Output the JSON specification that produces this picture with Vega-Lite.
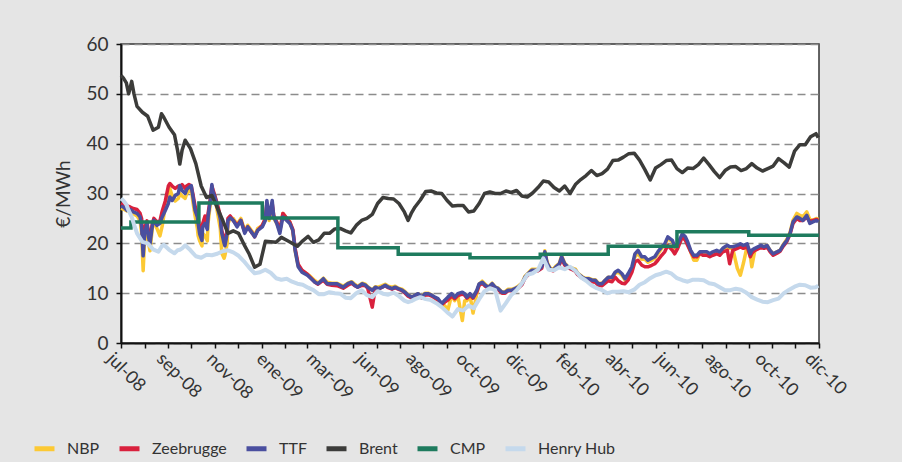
{
"$schema":"https://vega.github.io/schema/vega-lite/v6.json",
"autosize":{"type":"none"},
"width":698,"height":299,
"padding":{"left":121,"top":44,"right":83,"bottom":119},
"background":"#e5e5e5",
"config":{"font":"Lato, Liberation Sans, sans-serif","view":{"fill":"white","stroke":"#333","strokeWidth":1.5}},
"datasets":{
"gas":[
{"d":"2008-07-01","TTF":27.5,"NBP":27,"Zeebrugge":28},
{"d":"2008-07-05","TTF":27.2,"NBP":26.8,"Zeebrugge":27.8},
{"d":"2008-07-09","TTF":26.6,"NBP":26.5,"Zeebrugge":27.5},
{"d":"2008-07-13","TTF":26.8,"NBP":26.8,"Zeebrugge":27.3},
{"d":"2008-07-17","TTF":26.3,"NBP":26,"Zeebrugge":27},
{"d":"2008-07-22","TTF":26,"NBP":25.5,"Zeebrugge":26.8},
{"d":"2008-07-26","TTF":25.3,"NBP":24.5,"Zeebrugge":26},
{"d":"2008-07-28","TTF":23.3,"NBP":22,"Zeebrugge":25},
{"d":"2008-07-30","TTF":17.5,"NBP":14.5,"Zeebrugge":19},
{"d":"2008-08-01","TTF":22,"NBP":21,"Zeebrugge":23},
{"d":"2008-08-04","TTF":24,"NBP":23.5,"Zeebrugge":24.5},
{"d":"2008-08-06","TTF":21.3,"NBP":20,"Zeebrugge":22},
{"d":"2008-08-08","TTF":19.9,"NBP":18.5,"Zeebrugge":21},
{"d":"2008-08-11","TTF":23.5,"NBP":23,"Zeebrugge":24},
{"d":"2008-08-13","TTF":24.6,"NBP":24.5,"Zeebrugge":25},
{"d":"2008-08-17","TTF":23.6,"NBP":23,"Zeebrugge":24.3},
{"d":"2008-08-21","TTF":24,"NBP":21.5,"Zeebrugge":24.5},
{"d":"2008-08-24","TTF":25.3,"NBP":23.5,"Zeebrugge":26.5},
{"d":"2008-08-28","TTF":26.6,"NBP":27.5,"Zeebrugge":28.5},
{"d":"2008-09-01","TTF":28,"NBP":30,"Zeebrugge":31.5},
{"d":"2008-09-03","TTF":29.3,"NBP":31,"Zeebrugge":32},
{"d":"2008-09-06","TTF":28.6,"NBP":29.5,"Zeebrugge":31.5},
{"d":"2008-09-10","TTF":29.6,"NBP":28.5,"Zeebrugge":31},
{"d":"2008-09-14","TTF":30,"NBP":29,"Zeebrugge":31.5},
{"d":"2008-09-16","TTF":31.6,"NBP":30,"Zeebrugge":31.2},
{"d":"2008-09-19","TTF":30.6,"NBP":29.5,"Zeebrugge":31.8},
{"d":"2008-09-23","TTF":30,"NBP":29,"Zeebrugge":31},
{"d":"2008-09-25","TTF":30.8,"NBP":30,"Zeebrugge":31.5},
{"d":"2008-09-28","TTF":31.2,"NBP":30.5,"Zeebrugge":31.8},
{"d":"2008-10-01","TTF":31.6,"NBP":31,"Zeebrugge":31.5},
{"d":"2008-10-03","TTF":29.6,"NBP":28.5,"Zeebrugge":30},
{"d":"2008-10-06","TTF":26.6,"NBP":25.5,"Zeebrugge":27.5},
{"d":"2008-10-09","TTF":25.3,"NBP":23,"Zeebrugge":26},
{"d":"2008-10-10","TTF":24,"NBP":21.5,"Zeebrugge":25},
{"d":"2008-10-12","TTF":21.9,"NBP":20.5,"Zeebrugge":23},
{"d":"2008-10-15","TTF":20.6,"NBP":19.5,"Zeebrugge":22.5},
{"d":"2008-10-16","TTF":23.3,"NBP":22,"Zeebrugge":24},
{"d":"2008-10-19","TTF":24,"NBP":21.5,"Zeebrugge":25.5},
{"d":"2008-10-22","TTF":22.8,"NBP":20.5,"Zeebrugge":24},
{"d":"2008-10-23","TTF":25.3,"NBP":24,"Zeebrugge":26},
{"d":"2008-10-26","TTF":28.6,"NBP":28,"Zeebrugge":29},
{"d":"2008-10-28","TTF":31.8,"NBP":31,"Zeebrugge":31.5},
{"d":"2008-10-29","TTF":30.6,"NBP":30.5,"Zeebrugge":31},
{"d":"2008-11-01","TTF":29.3,"NBP":29.5,"Zeebrugge":29.5},
{"d":"2008-11-04","TTF":27.3,"NBP":26.5,"Zeebrugge":28},
{"d":"2008-11-08","TTF":25,"NBP":23,"Zeebrugge":25.5},
{"d":"2008-11-10","TTF":22,"NBP":18,"Zeebrugge":22.5},
{"d":"2008-11-13","TTF":20,"NBP":17,"Zeebrugge":21},
{"d":"2008-11-14","TTF":19.5,"NBP":17.5,"Zeebrugge":20},
{"d":"2008-11-17","TTF":22,"NBP":20,"Zeebrugge":22.5},
{"d":"2008-11-18","TTF":24.6,"NBP":24,"Zeebrugge":25},
{"d":"2008-11-21","TTF":25.1,"NBP":25,"Zeebrugge":25.5},
{"d":"2008-11-25","TTF":24.6,"NBP":25,"Zeebrugge":24.6},
{"d":"2008-11-30","TTF":23.3,"NBP":23.8,"Zeebrugge":23.6},
{"d":"2008-12-05","TTF":24.6,"NBP":25,"Zeebrugge":24.6},
{"d":"2008-12-10","TTF":22,"NBP":22.5,"Zeebrugge":22.3},
{"d":"2008-12-14","TTF":23.3,"NBP":23.6,"Zeebrugge":23.3},
{"d":"2008-12-20","TTF":22,"NBP":22.3,"Zeebrugge":22},
{"d":"2008-12-23","TTF":21.3,"NBP":21.6,"Zeebrugge":21.3},
{"d":"2008-12-27","TTF":22.6,"NBP":23,"Zeebrugge":22.6},
{"d":"2009-01-02","TTF":23.3,"NBP":23.6,"Zeebrugge":23.6},
{"d":"2009-01-06","TTF":24.6,"NBP":24.8,"Zeebrugge":25},
{"d":"2009-01-08","TTF":28.6,"NBP":27.5,"Zeebrugge":28},
{"d":"2009-01-11","TTF":25,"NBP":24.6,"Zeebrugge":25.5},
{"d":"2009-01-15","TTF":28.6,"NBP":27.5,"Zeebrugge":28},
{"d":"2009-01-17","TTF":25.3,"NBP":25,"Zeebrugge":25.6},
{"d":"2009-01-21","TTF":24,"NBP":24,"Zeebrugge":24.3},
{"d":"2009-01-25","TTF":22,"NBP":22.5,"Zeebrugge":22.6},
{"d":"2009-01-29","TTF":25.3,"NBP":26,"Zeebrugge":26},
{"d":"2009-02-03","TTF":24.6,"NBP":25,"Zeebrugge":25},
{"d":"2009-02-07","TTF":24,"NBP":24.3,"Zeebrugge":24.3},
{"d":"2009-02-11","TTF":22.6,"NBP":22.5,"Zeebrugge":22.8},
{"d":"2009-02-14","TTF":18.6,"NBP":18.5,"Zeebrugge":19},
{"d":"2009-02-18","TTF":15.3,"NBP":15.5,"Zeebrugge":15.8},
{"d":"2009-02-23","TTF":14.2,"NBP":14.5,"Zeebrugge":14.6},
{"d":"2009-03-02","TTF":13.6,"NBP":13.8,"Zeebrugge":13.8},
{"d":"2009-03-05","TTF":13.2,"NBP":13.5,"Zeebrugge":13.3},
{"d":"2009-03-12","TTF":12.2,"NBP":12.5,"Zeebrugge":12.2},
{"d":"2009-03-16","TTF":11.9,"NBP":12,"Zeebrugge":11.8},
{"d":"2009-03-23","TTF":12.9,"NBP":13,"Zeebrugge":12.6},
{"d":"2009-03-28","TTF":11.9,"NBP":12.2,"Zeebrugge":11.8},
{"d":"2009-04-03","TTF":11.9,"NBP":12,"Zeebrugge":11.6},
{"d":"2009-04-10","TTF":11.9,"NBP":12,"Zeebrugge":11.5},
{"d":"2009-04-18","TTF":11.2,"NBP":11.4,"Zeebrugge":11},
{"d":"2009-04-24","TTF":11.9,"NBP":12,"Zeebrugge":11.6},
{"d":"2009-04-29","TTF":12.2,"NBP":12.3,"Zeebrugge":12},
{"d":"2009-05-03","TTF":11.6,"NBP":11.8,"Zeebrugge":11.5},
{"d":"2009-05-07","TTF":11.2,"NBP":11.4,"Zeebrugge":11.2},
{"d":"2009-05-13","TTF":11.9,"NBP":12,"Zeebrugge":11.6},
{"d":"2009-05-17","TTF":11.6,"NBP":11.8,"Zeebrugge":11.5},
{"d":"2009-05-20","TTF":11.2,"NBP":11.3,"Zeebrugge":11},
{"d":"2009-05-26","TTF":10.6,"NBP":10.6,"Zeebrugge":7.2},
{"d":"2009-05-30","TTF":11.2,"NBP":11.3,"Zeebrugge":11},
{"d":"2009-06-03","TTF":10.9,"NBP":11.2,"Zeebrugge":10.8},
{"d":"2009-06-08","TTF":11.2,"NBP":11.5,"Zeebrugge":11.2},
{"d":"2009-06-12","TTF":11.6,"NBP":11.8,"Zeebrugge":11.5},
{"d":"2009-06-16","TTF":11.2,"NBP":11.4,"Zeebrugge":11.1},
{"d":"2009-06-21","TTF":10.9,"NBP":11.2,"Zeebrugge":10.8},
{"d":"2009-06-25","TTF":11.2,"NBP":11.4,"Zeebrugge":11.1},
{"d":"2009-06-29","TTF":10.9,"NBP":11,"Zeebrugge":10.8},
{"d":"2009-07-04","TTF":10.6,"NBP":10.8,"Zeebrugge":10.5},
{"d":"2009-07-08","TTF":10.2,"NBP":10.3,"Zeebrugge":10},
{"d":"2009-07-12","TTF":9.6,"NBP":9.7,"Zeebrugge":9.4},
{"d":"2009-07-17","TTF":9.2,"NBP":9.2,"Zeebrugge":9},
{"d":"2009-07-21","TTF":9.6,"NBP":9.6,"Zeebrugge":9.4},
{"d":"2009-07-25","TTF":9.9,"NBP":9.9,"Zeebrugge":9.6},
{"d":"2009-07-30","TTF":9.2,"NBP":9.2,"Zeebrugge":9},
{"d":"2009-08-03","TTF":9.9,"NBP":10,"Zeebrugge":9.6},
{"d":"2009-08-07","TTF":9.9,"NBP":10,"Zeebrugge":9.7},
{"d":"2009-08-12","TTF":9.6,"NBP":9.6,"Zeebrugge":9.4},
{"d":"2009-08-16","TTF":9.2,"NBP":9,"Zeebrugge":9},
{"d":"2009-08-20","TTF":8.9,"NBP":8.5,"Zeebrugge":8.6},
{"d":"2009-08-25","TTF":7.9,"NBP":7.5,"Zeebrugge":7.7},
{"d":"2009-08-29","TTF":8.6,"NBP":7.5,"Zeebrugge":8.2},
{"d":"2009-09-02","TTF":9.2,"NBP":6.6,"Zeebrugge":8.6},
{"d":"2009-09-07","TTF":9.9,"NBP":9.6,"Zeebrugge":9.5},
{"d":"2009-09-11","TTF":9.2,"NBP":8.5,"Zeebrugge":8.9},
{"d":"2009-09-15","TTF":9.9,"NBP":9.5,"Zeebrugge":9.5},
{"d":"2009-09-21","TTF":10.2,"NBP":4.5,"Zeebrugge":9.8},
{"d":"2009-09-24","TTF":9.9,"NBP":8.5,"Zeebrugge":9.6},
{"d":"2009-09-27","TTF":9.2,"NBP":8.5,"Zeebrugge":9},
{"d":"2009-10-01","TTF":9.9,"NBP":9.5,"Zeebrugge":9.6},
{"d":"2009-10-05","TTF":9.2,"NBP":6,"Zeebrugge":9},
{"d":"2009-10-10","TTF":10.6,"NBP":10,"Zeebrugge":10.3},
{"d":"2009-10-13","TTF":11.9,"NBP":11.8,"Zeebrugge":11.6},
{"d":"2009-10-17","TTF":12.2,"NBP":12.4,"Zeebrugge":12},
{"d":"2009-10-21","TTF":11.6,"NBP":11.8,"Zeebrugge":11.4},
{"d":"2009-10-25","TTF":11.2,"NBP":11.2,"Zeebrugge":11},
{"d":"2009-10-30","TTF":11.9,"NBP":12,"Zeebrugge":11.7},
{"d":"2009-11-03","TTF":11.2,"NBP":11.2,"Zeebrugge":11},
{"d":"2009-11-07","TTF":10.9,"NBP":11,"Zeebrugge":10.7},
{"d":"2009-11-12","TTF":10.2,"NBP":10.2,"Zeebrugge":10},
{"d":"2009-11-16","TTF":10.2,"NBP":10.3,"Zeebrugge":10},
{"d":"2009-11-20","TTF":10.6,"NBP":10.8,"Zeebrugge":10.5},
{"d":"2009-11-25","TTF":10.6,"NBP":10.8,"Zeebrugge":10.5},
{"d":"2009-11-29","TTF":10.9,"NBP":11,"Zeebrugge":10.7},
{"d":"2009-12-03","TTF":11.2,"NBP":11.4,"Zeebrugge":11},
{"d":"2009-12-08","TTF":11.9,"NBP":12,"Zeebrugge":11.7},
{"d":"2009-12-12","TTF":13.2,"NBP":13.4,"Zeebrugge":13},
{"d":"2009-12-16","TTF":13.9,"NBP":14,"Zeebrugge":13.7},
{"d":"2009-12-21","TTF":14.6,"NBP":14.8,"Zeebrugge":14.4},
{"d":"2009-12-25","TTF":14.6,"NBP":14.8,"Zeebrugge":14.4},
{"d":"2009-12-29","TTF":14.6,"NBP":14.8,"Zeebrugge":14.5},
{"d":"2010-01-03","TTF":15.3,"NBP":15.5,"Zeebrugge":15},
{"d":"2010-01-07","TTF":18.3,"NBP":18.5,"Zeebrugge":18},
{"d":"2010-01-10","TTF":16,"NBP":16.2,"Zeebrugge":15.8},
{"d":"2010-01-14","TTF":14.9,"NBP":15,"Zeebrugge":14.7},
{"d":"2010-01-18","TTF":14.6,"NBP":14.8,"Zeebrugge":14.5},
{"d":"2010-01-22","TTF":15.3,"NBP":15.5,"Zeebrugge":15.1},
{"d":"2010-01-26","TTF":15.9,"NBP":16,"Zeebrugge":15.6},
{"d":"2010-01-29","TTF":17.3,"NBP":17.5,"Zeebrugge":17},
{"d":"2010-02-02","TTF":15.9,"NBP":16,"Zeebrugge":15.6},
{"d":"2010-02-06","TTF":15.3,"NBP":15.4,"Zeebrugge":15.1},
{"d":"2010-02-12","TTF":14.9,"NBP":15,"Zeebrugge":14.7},
{"d":"2010-02-16","TTF":14.6,"NBP":14.8,"Zeebrugge":14.4},
{"d":"2010-02-19","TTF":13.9,"NBP":14,"Zeebrugge":13.7},
{"d":"2010-02-25","TTF":13.2,"NBP":13.3,"Zeebrugge":13},
{"d":"2010-03-01","TTF":12.9,"NBP":13,"Zeebrugge":12.7},
{"d":"2010-03-05","TTF":12.9,"NBP":13,"Zeebrugge":12.6},
{"d":"2010-03-10","TTF":12.6,"NBP":12.7,"Zeebrugge":12.3},
{"d":"2010-03-14","TTF":12.6,"NBP":12.7,"Zeebrugge":12.2},
{"d":"2010-03-18","TTF":11.9,"NBP":12,"Zeebrugge":11.6},
{"d":"2010-03-23","TTF":11.9,"NBP":12,"Zeebrugge":11.5},
{"d":"2010-03-27","TTF":12.6,"NBP":12.6,"Zeebrugge":12},
{"d":"2010-03-31","TTF":13.2,"NBP":13.2,"Zeebrugge":12.5},
{"d":"2010-04-05","TTF":13.2,"NBP":13,"Zeebrugge":12.3},
{"d":"2010-04-09","TTF":14.2,"NBP":14,"Zeebrugge":13.2},
{"d":"2010-04-13","TTF":14.6,"NBP":14.2,"Zeebrugge":12.5},
{"d":"2010-04-18","TTF":13.9,"NBP":13.6,"Zeebrugge":12},
{"d":"2010-04-22","TTF":12.9,"NBP":12.6,"Zeebrugge":11.9},
{"d":"2010-04-26","TTF":13.9,"NBP":13.6,"Zeebrugge":12.6},
{"d":"2010-05-01","TTF":15.3,"NBP":15,"Zeebrugge":14.2},
{"d":"2010-05-05","TTF":17.9,"NBP":17.3,"Zeebrugge":16.3},
{"d":"2010-05-09","TTF":18.6,"NBP":18,"Zeebrugge":16.6},
{"d":"2010-05-14","TTF":17.3,"NBP":16.8,"Zeebrugge":15.6},
{"d":"2010-05-18","TTF":17.3,"NBP":16.8,"Zeebrugge":15.3},
{"d":"2010-05-22","TTF":16.6,"NBP":16.2,"Zeebrugge":15.3},
{"d":"2010-05-27","TTF":17,"NBP":16.6,"Zeebrugge":15.6},
{"d":"2010-05-31","TTF":17.3,"NBP":17,"Zeebrugge":15.9},
{"d":"2010-06-04","TTF":18.3,"NBP":17.9,"Zeebrugge":16.6},
{"d":"2010-06-09","TTF":19.3,"NBP":19,"Zeebrugge":17.6},
{"d":"2010-06-13","TTF":19.9,"NBP":19.6,"Zeebrugge":18.3},
{"d":"2010-06-17","TTF":21.3,"NBP":21,"Zeebrugge":19.6},
{"d":"2010-06-23","TTF":20.6,"NBP":20.3,"Zeebrugge":18.6},
{"d":"2010-06-26","TTF":19.3,"NBP":19,"Zeebrugge":17.9},
{"d":"2010-06-30","TTF":19.9,"NBP":19.6,"Zeebrugge":19},
{"d":"2010-07-06","TTF":21.9,"NBP":21.6,"Zeebrugge":21.3},
{"d":"2010-07-10","TTF":21.3,"NBP":21,"Zeebrugge":20.6},
{"d":"2010-07-13","TTF":20.3,"NBP":20,"Zeebrugge":19.6},
{"d":"2010-07-17","TTF":18.6,"NBP":18.3,"Zeebrugge":18.3},
{"d":"2010-07-21","TTF":17.6,"NBP":16.6,"Zeebrugge":17.3},
{"d":"2010-07-25","TTF":17.6,"NBP":16.6,"Zeebrugge":17.3},
{"d":"2010-07-29","TTF":18.3,"NBP":18,"Zeebrugge":18},
{"d":"2010-08-02","TTF":18.3,"NBP":18,"Zeebrugge":17.6},
{"d":"2010-08-07","TTF":18.3,"NBP":18.1,"Zeebrugge":17.6},
{"d":"2010-08-11","TTF":17.9,"NBP":17.6,"Zeebrugge":17.3},
{"d":"2010-08-15","TTF":18.3,"NBP":18,"Zeebrugge":17.6},
{"d":"2010-08-20","TTF":18.6,"NBP":18.3,"Zeebrugge":17.9},
{"d":"2010-08-24","TTF":18.3,"NBP":18,"Zeebrugge":17.6},
{"d":"2010-08-28","TTF":19,"NBP":18.8,"Zeebrugge":18.3},
{"d":"2010-09-03","TTF":19.6,"NBP":19.3,"Zeebrugge":18.6},
{"d":"2010-09-06","TTF":19.3,"NBP":19,"Zeebrugge":15.9},
{"d":"2010-09-10","TTF":19.3,"NBP":19,"Zeebrugge":18.6},
{"d":"2010-09-16","TTF":19.6,"NBP":15,"Zeebrugge":19},
{"d":"2010-09-20","TTF":19.9,"NBP":13.6,"Zeebrugge":19.3},
{"d":"2010-09-24","TTF":19.6,"NBP":16,"Zeebrugge":19},
{"d":"2010-09-29","TTF":19.9,"NBP":19.5,"Zeebrugge":19.3},
{"d":"2010-10-03","TTF":17.9,"NBP":17.6,"Zeebrugge":17.3},
{"d":"2010-10-05","TTF":18.6,"NBP":15.3,"Zeebrugge":18},
{"d":"2010-10-09","TTF":19,"NBP":18.6,"Zeebrugge":18.6},
{"d":"2010-10-13","TTF":19.3,"NBP":19,"Zeebrugge":18.9},
{"d":"2010-10-17","TTF":19.6,"NBP":19.3,"Zeebrugge":19.2},
{"d":"2010-10-21","TTF":19.3,"NBP":19.3,"Zeebrugge":19},
{"d":"2010-10-25","TTF":19.6,"NBP":19.6,"Zeebrugge":19.3},
{"d":"2010-10-29","TTF":18.6,"NBP":18.6,"Zeebrugge":18.3},
{"d":"2010-11-02","TTF":17.9,"NBP":17.9,"Zeebrugge":17.6},
{"d":"2010-11-07","TTF":18.3,"NBP":18.3,"Zeebrugge":18},
{"d":"2010-11-11","TTF":18.6,"NBP":18.6,"Zeebrugge":18.4},
{"d":"2010-11-15","TTF":19.6,"NBP":19.7,"Zeebrugge":19.4},
{"d":"2010-11-20","TTF":20.6,"NBP":20.8,"Zeebrugge":20.4},
{"d":"2010-11-24","TTF":21.9,"NBP":22.2,"Zeebrugge":21.8},
{"d":"2010-11-28","TTF":24.3,"NBP":24.6,"Zeebrugge":24},
{"d":"2010-12-03","TTF":25.3,"NBP":26,"Zeebrugge":25},
{"d":"2010-12-07","TTF":25,"NBP":25.6,"Zeebrugge":24.6},
{"d":"2010-12-11","TTF":24.6,"NBP":25.3,"Zeebrugge":24.6},
{"d":"2010-12-16","TTF":25.6,"NBP":26.3,"Zeebrugge":25.3},
{"d":"2010-12-20","TTF":24,"NBP":24.8,"Zeebrugge":24.3},
{"d":"2010-12-24","TTF":24.3,"NBP":24.6,"Zeebrugge":24.6},
{"d":"2010-12-29","TTF":24.6,"NBP":25,"Zeebrugge":24.8},
{"d":"2010-12-31","TTF":24.3,"NBP":24.8,"Zeebrugge":24.6}
],
"bh":[
{"d":"2008-07-01","Brent":53.7,"HenryHub":29},
{"d":"2008-07-04","Brent":53.2,"HenryHub":28.6},
{"d":"2008-07-08","Brent":52.2,"HenryHub":27.8},
{"d":"2008-07-11","Brent":50,"HenryHub":26.6},
{"d":"2008-07-15","Brent":52.5,"HenryHub":25.3},
{"d":"2008-07-18","Brent":50,"HenryHub":23.8},
{"d":"2008-07-22","Brent":47.5,"HenryHub":22},
{"d":"2008-07-29","Brent":46.3,"HenryHub":20.3},
{"d":"2008-08-05","Brent":45.5,"HenryHub":20},
{"d":"2008-08-12","Brent":42.7,"HenryHub":18.8},
{"d":"2008-08-19","Brent":43.3,"HenryHub":18.3},
{"d":"2008-08-23","Brent":46,"HenryHub":19.3},
{"d":"2008-08-26","Brent":45.3,"HenryHub":19.7},
{"d":"2008-09-02","Brent":43.3,"HenryHub":18.7},
{"d":"2008-09-09","Brent":41.8,"HenryHub":18},
{"d":"2008-09-13","Brent":38.7,"HenryHub":18.6},
{"d":"2008-09-16","Brent":35.9,"HenryHub":18.7},
{"d":"2008-09-19","Brent":38.7,"HenryHub":19},
{"d":"2008-09-23","Brent":40.7,"HenryHub":19.6},
{"d":"2008-09-30","Brent":39,"HenryHub":18.6},
{"d":"2008-10-07","Brent":36,"HenryHub":17.4},
{"d":"2008-10-14","Brent":31.5,"HenryHub":17.1},
{"d":"2008-10-21","Brent":29.2,"HenryHub":17.7},
{"d":"2008-10-28","Brent":29.6,"HenryHub":17.6},
{"d":"2008-11-04","Brent":27.2,"HenryHub":17.9},
{"d":"2008-11-11","Brent":24.7,"HenryHub":18.4},
{"d":"2008-11-18","Brent":22,"HenryHub":18.6},
{"d":"2008-11-25","Brent":22.5,"HenryHub":18.2},
{"d":"2008-12-02","Brent":22,"HenryHub":17.5},
{"d":"2008-12-09","Brent":19.8,"HenryHub":16.4},
{"d":"2008-12-16","Brent":17.8,"HenryHub":15.1},
{"d":"2008-12-23","Brent":15.2,"HenryHub":14},
{"d":"2008-12-30","Brent":15.8,"HenryHub":14.2},
{"d":"2009-01-06","Brent":20.4,"HenryHub":14.7},
{"d":"2009-01-13","Brent":20.3,"HenryHub":14.1},
{"d":"2009-01-20","Brent":20.2,"HenryHub":13},
{"d":"2009-01-27","Brent":21.2,"HenryHub":12.7},
{"d":"2009-02-03","Brent":20.6,"HenryHub":12.9},
{"d":"2009-02-10","Brent":20,"HenryHub":12.3},
{"d":"2009-02-17","Brent":19.4,"HenryHub":11.9},
{"d":"2009-02-24","Brent":20.5,"HenryHub":11.7},
{"d":"2009-03-03","Brent":21.4,"HenryHub":11.1},
{"d":"2009-03-10","Brent":20.2,"HenryHub":10.6},
{"d":"2009-03-17","Brent":20.7,"HenryHub":9.8},
{"d":"2009-03-24","Brent":22,"HenryHub":9.8},
{"d":"2009-03-31","Brent":22,"HenryHub":10.2},
{"d":"2009-04-07","Brent":22.9,"HenryHub":10},
{"d":"2009-04-14","Brent":23,"HenryHub":9.9},
{"d":"2009-04-21","Brent":22.5,"HenryHub":9.1},
{"d":"2009-04-28","Brent":22.1,"HenryHub":9},
{"d":"2009-05-05","Brent":23.6,"HenryHub":10},
{"d":"2009-05-12","Brent":24.6,"HenryHub":10.6},
{"d":"2009-05-19","Brent":25,"HenryHub":9.6},
{"d":"2009-05-26","Brent":25.8,"HenryHub":9.2},
{"d":"2009-06-02","Brent":28,"HenryHub":10.4},
{"d":"2009-06-09","Brent":29.2,"HenryHub":9.9},
{"d":"2009-06-16","Brent":29,"HenryHub":9.7},
{"d":"2009-06-23","Brent":28.9,"HenryHub":10.1},
{"d":"2009-06-30","Brent":28,"HenryHub":9.4},
{"d":"2009-07-07","Brent":26.3,"HenryHub":8.5},
{"d":"2009-07-12","Brent":24.6,"HenryHub":8.2},
{"d":"2009-07-16","Brent":26,"HenryHub":8.4},
{"d":"2009-07-21","Brent":27.3,"HenryHub":8.8},
{"d":"2009-07-28","Brent":28.7,"HenryHub":9.2},
{"d":"2009-08-04","Brent":30.4,"HenryHub":8.8},
{"d":"2009-08-11","Brent":30.5,"HenryHub":8.6},
{"d":"2009-08-18","Brent":30.1,"HenryHub":8},
{"d":"2009-08-25","Brent":30,"HenryHub":7.2},
{"d":"2009-09-01","Brent":28.6,"HenryHub":6.2},
{"d":"2009-09-08","Brent":27.5,"HenryHub":5.3},
{"d":"2009-09-15","Brent":27.6,"HenryHub":6.8},
{"d":"2009-09-22","Brent":27.6,"HenryHub":6.5},
{"d":"2009-09-29","Brent":26.3,"HenryHub":7.5},
{"d":"2009-10-06","Brent":26.5,"HenryHub":7},
{"d":"2009-10-13","Brent":28,"HenryHub":8.8},
{"d":"2009-10-20","Brent":30,"HenryHub":10.4},
{"d":"2009-10-27","Brent":30.3,"HenryHub":11},
{"d":"2009-11-03","Brent":30,"HenryHub":10.6},
{"d":"2009-11-10","Brent":30,"HenryHub":6.5},
{"d":"2009-11-17","Brent":30.5,"HenryHub":8},
{"d":"2009-11-24","Brent":30.2,"HenryHub":9.6},
{"d":"2009-12-01","Brent":30.6,"HenryHub":10.6},
{"d":"2009-12-08","Brent":29.5,"HenryHub":12},
{"d":"2009-12-15","Brent":29.3,"HenryHub":13.7},
{"d":"2009-12-22","Brent":30.1,"HenryHub":14},
{"d":"2009-12-29","Brent":31.2,"HenryHub":14.7},
{"d":"2010-01-05","Brent":32.5,"HenryHub":17},
{"d":"2010-01-12","Brent":32.3,"HenryHub":14.7},
{"d":"2010-01-19","Brent":31.2,"HenryHub":14.6},
{"d":"2010-01-26","Brent":30.5,"HenryHub":15.2},
{"d":"2010-02-02","Brent":31.5,"HenryHub":14.8},
{"d":"2010-02-09","Brent":30,"HenryHub":15.3},
{"d":"2010-02-16","Brent":31.8,"HenryHub":14.5},
{"d":"2010-02-23","Brent":32.8,"HenryHub":13.2},
{"d":"2010-03-02","Brent":33.6,"HenryHub":12.5},
{"d":"2010-03-09","Brent":34.6,"HenryHub":11.6},
{"d":"2010-03-16","Brent":33.6,"HenryHub":11},
{"d":"2010-03-23","Brent":34,"HenryHub":10.6},
{"d":"2010-03-30","Brent":34.9,"HenryHub":10},
{"d":"2010-04-06","Brent":36.6,"HenryHub":10.3},
{"d":"2010-04-13","Brent":36.7,"HenryHub":10.3},
{"d":"2010-04-20","Brent":37.3,"HenryHub":10.4},
{"d":"2010-04-27","Brent":38,"HenryHub":10.2},
{"d":"2010-05-04","Brent":38.1,"HenryHub":10.7},
{"d":"2010-05-11","Brent":36.7,"HenryHub":11.7},
{"d":"2010-05-18","Brent":34.8,"HenryHub":12.2},
{"d":"2010-05-25","Brent":32.7,"HenryHub":13},
{"d":"2010-06-01","Brent":35.1,"HenryHub":13.6},
{"d":"2010-06-08","Brent":35.8,"HenryHub":13.9},
{"d":"2010-06-15","Brent":36.6,"HenryHub":14.3},
{"d":"2010-06-22","Brent":36.7,"HenryHub":13.9},
{"d":"2010-06-29","Brent":35,"HenryHub":13},
{"d":"2010-07-06","Brent":34.2,"HenryHub":12.6},
{"d":"2010-07-13","Brent":35.1,"HenryHub":12.3},
{"d":"2010-07-20","Brent":35,"HenryHub":12.7},
{"d":"2010-07-27","Brent":35.8,"HenryHub":12.7},
{"d":"2010-08-03","Brent":37.1,"HenryHub":12.6},
{"d":"2010-08-10","Brent":35.8,"HenryHub":12},
{"d":"2010-08-17","Brent":34.4,"HenryHub":11.8},
{"d":"2010-08-24","Brent":33.2,"HenryHub":11.2},
{"d":"2010-08-31","Brent":34.6,"HenryHub":10.6},
{"d":"2010-09-07","Brent":35.3,"HenryHub":10.6},
{"d":"2010-09-14","Brent":35.4,"HenryHub":10.9},
{"d":"2010-09-21","Brent":34.6,"HenryHub":10.7},
{"d":"2010-09-28","Brent":35,"HenryHub":10.1},
{"d":"2010-10-05","Brent":36,"HenryHub":9.2},
{"d":"2010-10-12","Brent":35.1,"HenryHub":8.7},
{"d":"2010-10-19","Brent":34.5,"HenryHub":8.3},
{"d":"2010-10-26","Brent":35,"HenryHub":8.2},
{"d":"2010-11-02","Brent":35.5,"HenryHub":8.6},
{"d":"2010-11-09","Brent":37,"HenryHub":8.9},
{"d":"2010-11-16","Brent":36.2,"HenryHub":10},
{"d":"2010-11-23","Brent":35.3,"HenryHub":10.7},
{"d":"2010-11-30","Brent":38.5,"HenryHub":11.3},
{"d":"2010-12-07","Brent":39.8,"HenryHub":11.7},
{"d":"2010-12-14","Brent":39.8,"HenryHub":11.6},
{"d":"2010-12-21","Brent":41.4,"HenryHub":11.1},
{"d":"2010-12-28","Brent":42,"HenryHub":11.2},
{"d":"2010-12-31","Brent":41.2,"HenryHub":11.5}
],
"cmp":[
{"d":"2008-07-01","CMP":23.1},
{"d":"2008-07-14","CMP":24.3},
{"d":"2008-10-11","CMP":28.1},
{"d":"2009-01-02","CMP":25.1},
{"d":"2009-04-11","CMP":19.1},
{"d":"2009-06-29","CMP":17.8},
{"d":"2009-10-01","CMP":17.1},
{"d":"2010-01-01","CMP":17.8},
{"d":"2010-03-31","CMP":19.4},
{"d":"2010-06-29","CMP":22.3},
{"d":"2010-10-01","CMP":21.6},
{"d":"2011-01-01","CMP":21.6}
]
},
"resolve":{"axis":{"x":"independent"}},
"layer":[
{"data":{"name":"gas"},
 "mark":{"type":"line","strokeWidth":3.5,"strokeJoin":"round"},
 "encoding":{
  "x":{"field":"d","type":"temporal","scale":{"domain":[1214870400000,1293840000000]},
   "axis":{"orient":"bottom","title":null,"labels":false,"grid":false,"tickCount":{"interval":"month","step":1},"tickSize":5,"tickWidth":1.5,"tickColor":"#111","domainColor":"#111","domainWidth":2}},
  "y":{"field":"NBP","type":"quantitative","scale":{"domain":[0,60],"nice":false},
   "axis":{"title":"€/MWh","values":[0,10,20,30,40,50,60],"grid":true,"gridDash":[8,5],"gridColor":"#8c8c8c","gridWidth":1.5,"domainColor":"#111","domainWidth":2,"tickColor":"#111","tickSize":5,"tickWidth":1.5,"labelFontSize":19,"labelPadding":8,"labelColor":"#333","titleFontSize":19,"titleFontWeight":"normal","titleColor":"#333","titlePadding":12}},
  "color":{"datum":"NBP","type":"nominal",
   "scale":{"domain":["NBP","Zeebrugge","TTF","Brent","CMP","Henry Hub"],"range":["#fcc934","#d9213d","#4a4f9f","#3c3c3a","#1e7b5e","#c5d9ec"]},
   "legend":{"orient":"none","legendX":-89,"legendY":392,"direction":"horizontal","title":null,"labelFontSize":16,"labelColor":"#333","symbolType":"stroke","symbolStrokeWidth":5,"symbolSize":400,"labelOffset":10,"columnPadding":9}}
 }},
{"data":{"name":"gas"},
 "mark":{"type":"line","strokeWidth":3.5,"strokeJoin":"round"},
 "encoding":{
  "x":{"field":"d","type":"temporal","scale":{"domain":[1214870400000,1293840000000]},
   "axis":{"orient":"bottom","title":null,"grid":false,"ticks":false,"domain":false,
    "values":[1214870400000,1220511085714,1226151771429,1231792457143,1237433142857,1243073828571,1248714514286,1254355200000,1259995885714,1265636571429,1271277257143,1276917942857,1282558628571,1288199314286,1293840000000],
    "labelExpr":"['jul-08','sep-08','nov-08','ene-09','mar-09','jun-09','ago-09','oct-09','dic-09','feb-10','abr-10','jun-10','ago-10','oct-10','dic-10'][round((datum.value - 1214870400000) / 5640685714.3)]",
    "labelAngle":45,"labelAlign":"left","labelBaseline":"middle","labelPadding":13,"labelOffset":-12,"labelFontSize":18,"labelColor":"#333","labelOverlap":false,"labelFlush":false,"labelBound":false}},
  "y":{"field":"Zeebrugge","type":"quantitative","scale":{"domain":[0,60],"nice":false},
   "axis":{"title":"€/MWh","values":[0,10,20,30,40,50,60],"grid":true,"gridDash":[8,5],"gridColor":"#8c8c8c","gridWidth":1.5,"domainColor":"#111","domainWidth":2,"tickColor":"#111","tickSize":5,"tickWidth":1.5,"labelFontSize":19,"labelPadding":8,"labelColor":"#333","titleFontSize":19,"titleFontWeight":"normal","titleColor":"#333","titlePadding":12}},
  "color":{"datum":"Zeebrugge","type":"nominal","scale":{"domain":["NBP","Zeebrugge","TTF","Brent","CMP","Henry Hub"],"range":["#fcc934","#d9213d","#4a4f9f","#3c3c3a","#1e7b5e","#c5d9ec"]}}
 }},
{"data":{"name":"gas"},
 "mark":{"type":"line","strokeWidth":3.5,"strokeJoin":"round"},
 "encoding":{
  "x":{"field":"d","type":"temporal","scale":{"domain":[1214870400000,1293840000000]},"axis":null},
  "y":{"field":"TTF","type":"quantitative","scale":{"domain":[0,60],"nice":false},
   "axis":{"title":"€/MWh","values":[0,10,20,30,40,50,60],"grid":true,"gridDash":[8,5],"gridColor":"#8c8c8c","gridWidth":1.5,"domainColor":"#111","domainWidth":2,"tickColor":"#111","tickSize":5,"tickWidth":1.5,"labelFontSize":19,"labelPadding":8,"labelColor":"#333","titleFontSize":19,"titleFontWeight":"normal","titleColor":"#333","titlePadding":12}},
  "color":{"datum":"TTF","type":"nominal","scale":{"domain":["NBP","Zeebrugge","TTF","Brent","CMP","Henry Hub"],"range":["#fcc934","#d9213d","#4a4f9f","#3c3c3a","#1e7b5e","#c5d9ec"]}}
 }},
{"data":{"name":"bh"},
 "mark":{"type":"line","strokeWidth":3.5,"strokeJoin":"round"},
 "encoding":{
  "x":{"field":"d","type":"temporal","scale":{"domain":[1214870400000,1293840000000]},"axis":null},
  "y":{"field":"Brent","type":"quantitative","scale":{"domain":[0,60],"nice":false},
   "axis":{"title":"€/MWh","values":[0,10,20,30,40,50,60],"grid":true,"gridDash":[8,5],"gridColor":"#8c8c8c","gridWidth":1.5,"domainColor":"#111","domainWidth":2,"tickColor":"#111","tickSize":5,"tickWidth":1.5,"labelFontSize":19,"labelPadding":8,"labelColor":"#333","titleFontSize":19,"titleFontWeight":"normal","titleColor":"#333","titlePadding":12}},
  "color":{"datum":"Brent","type":"nominal","scale":{"domain":["NBP","Zeebrugge","TTF","Brent","CMP","Henry Hub"],"range":["#fcc934","#d9213d","#4a4f9f","#3c3c3a","#1e7b5e","#c5d9ec"]}}
 }},
{"data":{"name":"cmp"},
 "mark":{"type":"line","strokeWidth":3.5,"interpolate":"step-after"},
 "encoding":{
  "x":{"field":"d","type":"temporal","scale":{"domain":[1214870400000,1293840000000]},"axis":null},
  "y":{"field":"CMP","type":"quantitative","scale":{"domain":[0,60],"nice":false},
   "axis":{"title":"€/MWh","values":[0,10,20,30,40,50,60],"grid":true,"gridDash":[8,5],"gridColor":"#8c8c8c","gridWidth":1.5,"domainColor":"#111","domainWidth":2,"tickColor":"#111","tickSize":5,"tickWidth":1.5,"labelFontSize":19,"labelPadding":8,"labelColor":"#333","titleFontSize":19,"titleFontWeight":"normal","titleColor":"#333","titlePadding":12}},
  "color":{"datum":"CMP","type":"nominal","scale":{"domain":["NBP","Zeebrugge","TTF","Brent","CMP","Henry Hub"],"range":["#fcc934","#d9213d","#4a4f9f","#3c3c3a","#1e7b5e","#c5d9ec"]}}
 }},
{"data":{"name":"bh"},
 "mark":{"type":"line","strokeWidth":4,"strokeJoin":"round"},
 "encoding":{
  "x":{"field":"d","type":"temporal","scale":{"domain":[1214870400000,1293840000000]},"axis":null},
  "y":{"field":"HenryHub","type":"quantitative","scale":{"domain":[0,60],"nice":false},
   "axis":{"title":"€/MWh","values":[0,10,20,30,40,50,60],"grid":true,"gridDash":[8,5],"gridColor":"#8c8c8c","gridWidth":1.5,"domainColor":"#111","domainWidth":2,"tickColor":"#111","tickSize":5,"tickWidth":1.5,"labelFontSize":19,"labelPadding":8,"labelColor":"#333","titleFontSize":19,"titleFontWeight":"normal","titleColor":"#333","titlePadding":12}},
  "color":{"datum":"Henry Hub","type":"nominal","scale":{"domain":["NBP","Zeebrugge","TTF","Brent","CMP","Henry Hub"],"range":["#fcc934","#d9213d","#4a4f9f","#3c3c3a","#1e7b5e","#c5d9ec"]}}
 }}
]
}
